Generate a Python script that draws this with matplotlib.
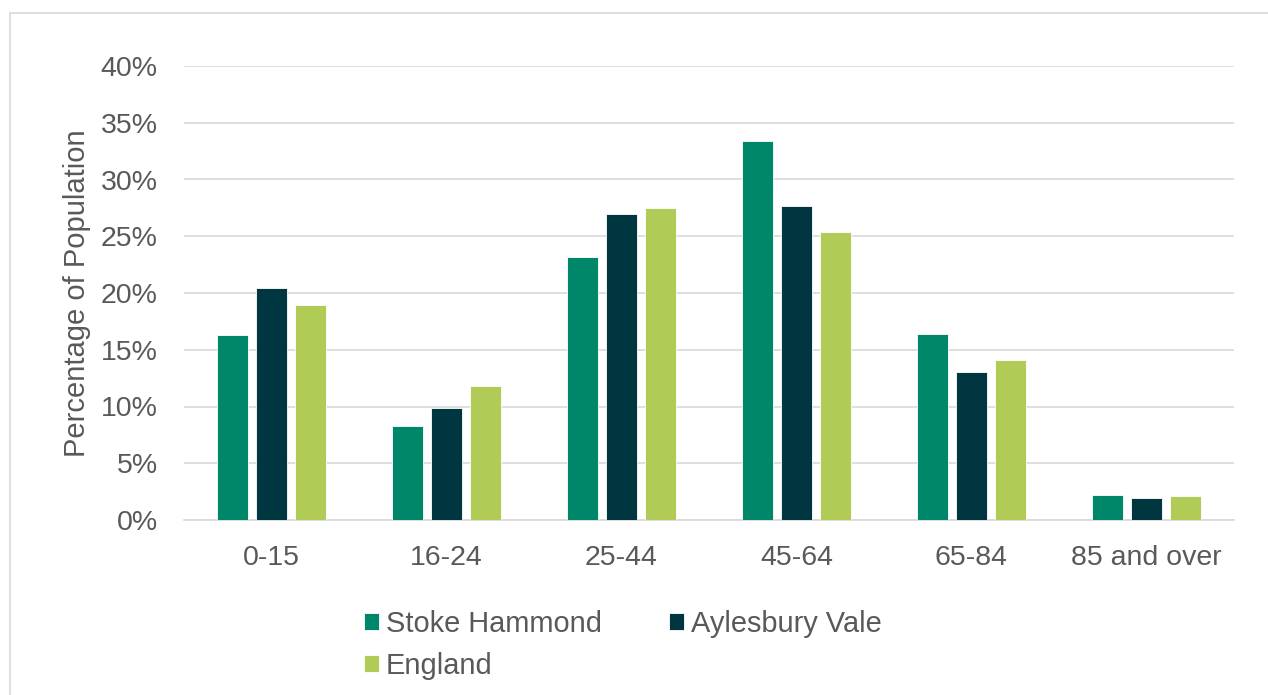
import matplotlib.pyplot as plt
import matplotlib.patches as patches
import numpy as np

plt.rcParams['font.family'] = ['Liberation Sans', 'DejaVu Sans']

# datos
grupos = ['0-15', '16-24', '25-44', '45-64', '65-84', '85 and over']
stoke_hammond = [16.3, 8.3, 23.2, 33.4, 16.4, 2.2]
aylesbury_vale = [20.4, 9.9, 27.0, 27.7, 13.0, 1.9]
england = [18.9, 11.8, 27.5, 25.4, 14.1, 2.1]

series = ['Stoke Hammond', 'Aylesbury Vale', 'England']
colores = ['#00876a', '#003640', '#b0cc56']

gris = '#595959'
fs = 20.5

fig = plt.figure(figsize=(12.68, 6.95), dpi=100)
ax = fig.add_axes([184/1268, 1-520/695, 1050/1268, (520-66)/695])

x = np.arange(len(grupos))
ancho = 0.18
desp = 0.223
barras = []
for i, vals in enumerate([stoke_hammond, aylesbury_vale, england]):
    b = ax.bar(x + (i-1)*desp, vals, ancho, color=colores[i], label=series[i],
               edgecolor='white', linewidth=0.6, zorder=3)
    barras.append(b)

ax.set_xlim(-0.5, len(grupos)-0.5)
ax.set_ylim(0, 40)
ax.set_yticks(range(0, 41, 5))
ax.set_yticklabels([f'{v}%' for v in range(0, 41, 5)])
ax.set_xticks(x)
ax.set_xticklabels(grupos)
ax.tick_params(axis='y', length=0, pad=19, labelsize=fs, labelcolor=gris)
ax.tick_params(axis='x', length=0, pad=18, labelsize=fs, labelcolor=gris)

ax.grid(axis='y', color='#d9d9d9', linewidth=1.2, zorder=0)
for s in ['top', 'right', 'left']:
    ax.spines[s].set_visible(False)
ax.spines['bottom'].set_color('#d9d9d9')
ax.spines['bottom'].set_linewidth(1.2)

ax.set_ylabel('Percentage of Population', fontsize=21, color=gris, labelpad=7)

# orden para que quede por filas: SH, AV / England
orden = [0, 2, 1]
fig.legend([barras[i] for i in orden], [series[i] for i in orden],
           loc='upper left', bbox_to_anchor=(364/1268, 1-610/695), ncol=2,
           frameon=False, fontsize=20.9, labelcolor=gris, borderaxespad=0,
           borderpad=0, handlelength=0.52, handleheight=0.52,
           handletextpad=0.24, columnspacing=2.3, labelspacing=0.47)

# marco exterior
marco = patches.Rectangle((10/1268, -0.1), 1.2, 1-13/695+0.1, transform=fig.transFigure,
                          fill=False, edgecolor='#d9d9d9', linewidth=1.2)
fig.patches.append(marco)

fig.savefig('out.png', dpi=100)
